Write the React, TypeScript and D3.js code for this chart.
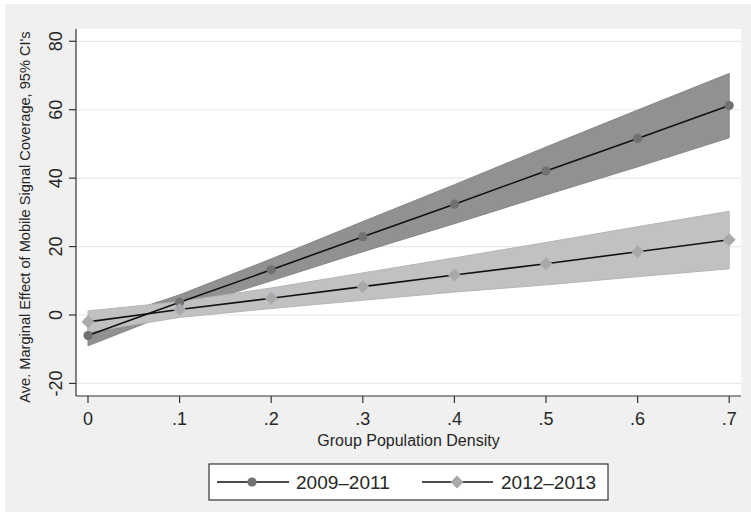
import React from "react";
import * as d3 from "d3";

const xValues = [0, 0.1, 0.2, 0.3, 0.4, 0.5, 0.6, 0.7];
const s1Est = [-6, 3.7, 13.2, 22.9, 32.4, 42.1, 51.6, 61.2];
const s1Lo = [-9, 1.5, 10.0, 18.5, 26.7, 35.1, 43.3, 51.8];
const s1Hi = [-3, 5.9, 16.4, 27.3, 38.1, 49.1, 59.9, 70.6];
const s2Est = [-2, 1.6, 4.9, 8.3, 11.7, 15.0, 18.5, 22.0];
const s2Lo = [-5, -0.7, 1.9, 4.3, 6.7, 8.8, 11.2, 13.5];
const s2Hi = [1.2, 3.9, 7.9, 12.3, 16.7, 21.2, 25.8, 30.3];
const yTicks = [-20, 0, 20, 40, 60, 80];
const xTicks = [0, 0.1, 0.2, 0.3, 0.4, 0.5, 0.6, 0.7];
const xTickLabels = ["0", ".1", ".2", ".3", ".4", ".5", ".6", ".7"];
const seriesNames = ["2009\u20132011", "2012\u20132013"];

const W = 751, H = 513;
const plot = { left: 76, right: 741, top: 29, bottom: 396 };
const font = "'Liberation Sans', Arial, sans-serif";

export default function App() {
  const x = d3.scaleLinear().domain([0, 0.7]).range([88, 729.2]);
  const y = d3.scaleLinear().domain([0, 80]).range([315, 41.3]);
  const area = (lo: number[], hi: number[]) =>
    d3.area<number>().x((d) => x(d)).y0((_, i) => y(lo[i])).y1((_, i) => y(hi[i]))(xValues) || "";
  const line = (v: number[]) => d3.line<number>().x((d) => x(d)).y((_, i) => y(v[i]))(xValues) || "";
  const diamond = (cx: number, cy: number, r: number) =>
    `M${cx},${cy - r}L${cx + r},${cy}L${cx},${cy + r}L${cx - r},${cy}Z`;
  const c1 = "#909193", c1m = "#707173", c2 = "#c0c1c3", c2m = "#a8a9ab";
  const textCol = "#262626";
  const midX = (plot.left + plot.right) / 2;
  return (
    <svg width={W} height={H} style={{ position: "absolute", left: 0, top: 0 }} fontFamily={font}>
      <rect x={0} y={0} width={W} height={H} fill="#ffffff" />
      <rect x={5} y={4} width={W - 5} height={H - 5} fill="#eff0ef" />
      <rect x={plot.left} y={plot.top} width={plot.right - plot.left} height={plot.bottom - plot.top} fill="#ffffff" />
      {yTicks.map((t) => (
        <line key={"g" + t} x1={plot.left} x2={plot.right} y1={y(t)} y2={y(t)} stroke="#e6e7e6" strokeWidth={1.2} />
      ))}
      <path d={area(s1Lo, s1Hi)} fill={c1} stroke="#858688" strokeWidth={1} />
      <path d={area(s2Lo, s2Hi)} fill={c2} stroke="#b4b5b7" strokeWidth={1} />
      <path d={line(s1Est)} fill="none" stroke="#111" strokeWidth={1.6} />
      <path d={line(s2Est)} fill="none" stroke="#111" strokeWidth={1.6} />
      {xValues.map((v, i) => (
        <circle key={"c" + i} cx={x(v)} cy={y(s1Est[i])} r={4.6} fill={c1m} />
      ))}
      {xValues.map((v, i) => (
        <path key={"d" + i} d={diamond(x(v), y(s2Est[i]), 6.5)} fill={c2m} />
      ))}
      <line x1={plot.left} x2={plot.left} y1={plot.top} y2={plot.bottom} stroke="#333" strokeWidth={1.2} />
      <line x1={plot.left} x2={plot.right} y1={plot.bottom} y2={plot.bottom} stroke="#333" strokeWidth={1.2} />
      {yTicks.map((t) => (
        <g key={"yt" + t}>
          <line x1={plot.left - 7} x2={plot.left} y1={y(t)} y2={y(t)} stroke="#333" strokeWidth={1.2} />
          <text transform={`translate(62,${y(t)}) rotate(-90)`} textAnchor="middle" fontSize={18} fill={textCol}>
            {t}
          </text>
        </g>
      ))}
      {xTicks.map((t, i) => (
        <g key={"xt" + i}>
          <line x1={x(t)} x2={x(t)} y1={plot.bottom} y2={plot.bottom + 7} stroke="#333" strokeWidth={1.2} />
          <text x={x(t)} y={425} textAnchor="middle" fontSize={18} fill={textCol}>
            {xTickLabels[i]}
          </text>
        </g>
      ))}
      <text x={midX} y={446} textAnchor="middle" fontSize={16} fill={textCol}>
        Group Population Density
      </text>
      <text transform={`translate(30,217) rotate(-90)`} textAnchor="middle" fontSize={14.6} fill={textCol}>
        Ave. Marginal Effect of Mobile Signal Coverage, 95% CI's
      </text>
      <rect x={209} y={464} width={399} height={36} fill="#ffffff" stroke="#333" strokeWidth={1.2} />
      <line x1={217} x2={289} y1={482} y2={482} stroke="#111" strokeWidth={1.4} />
      <circle cx={252} cy={482} r={4.6} fill={c1m} />
      <text x={296} y={489} fontSize={19} fill={textCol}>{seriesNames[0]}</text>
      <line x1={422} x2={493} y1={482} y2={482} stroke="#111" strokeWidth={1.4} />
      <path d={diamond(457, 482, 6.5)} fill={c2m} />
      <text x={501} y={489} fontSize={19} fill={textCol}>{seriesNames[1]}</text>
    </svg>
  );
}
